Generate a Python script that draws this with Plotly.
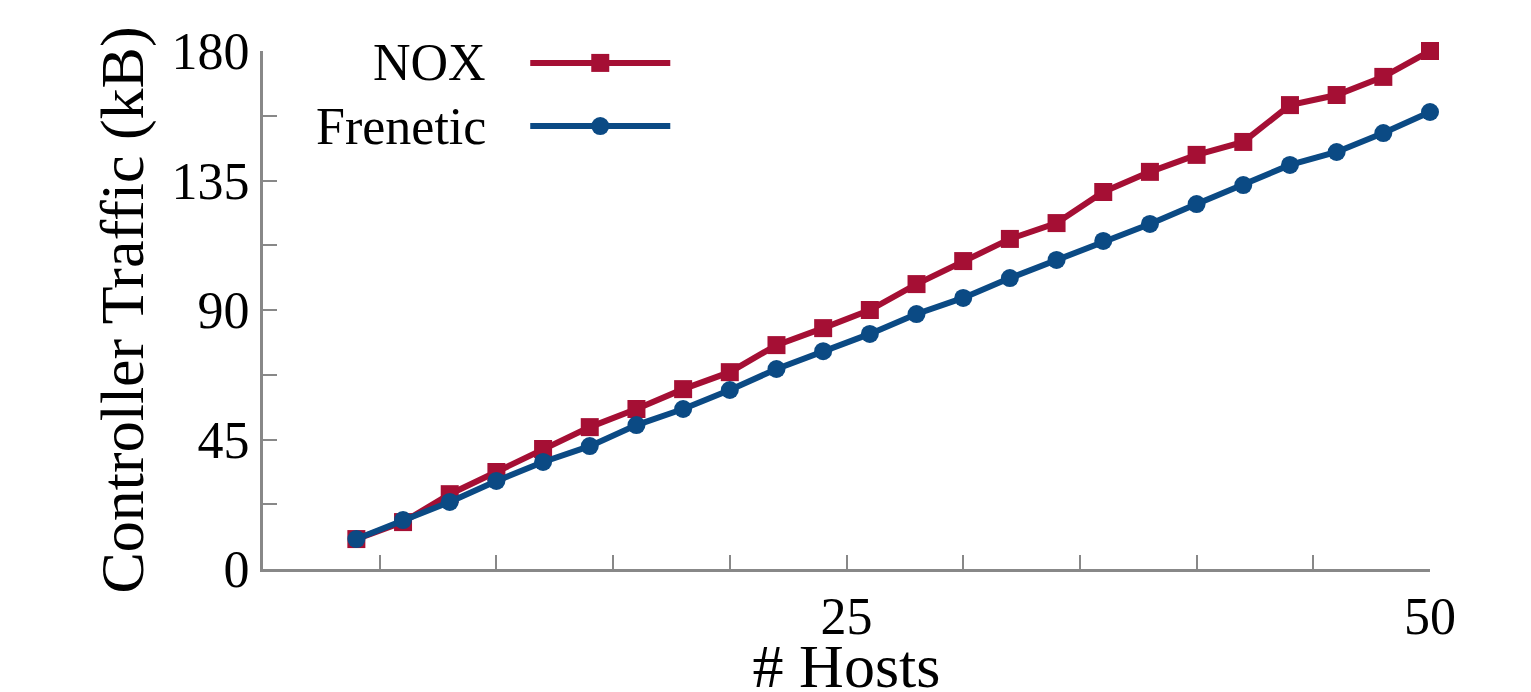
import plotly.graph_objects as go

hosts = [4,6,8,10,12,14,16,18,20,22,24,26,28,30,32,34,36,38,40,42,44,46,48,50]
nox = [10.4,16.3,26,33.7,41.7,49.3,55.6,62.5,68.4,77.8,83.7,90,99,107,114.7,120.2,131,138,143.9,148.4,161.2,164.7,171,180]
frenetic = [10.4,17,23.3,30.6,37.2,42.7,50,55.6,62.2,69.5,75.7,81.7,88.6,94.2,101.1,107.4,114,119.9,126.8,133.4,140.4,144.9,151.5,158.8]

RED = "#A50F34"
BLUE = "#0B4A84"
font = dict(family="Times New Roman, Liberation Serif, DejaVu Serif, serif", size=52, color="black")

fig = go.Figure()
fig.add_trace(go.Scatter(x=hosts, y=nox, mode="lines+markers", name="NOX",
    line=dict(color=RED, width=6), marker=dict(symbol="square", size=18, color=RED), cliponaxis=False))
fig.add_trace(go.Scatter(x=hosts, y=frenetic, mode="lines+markers", name="Frenetic",
    line=dict(color=BLUE, width=6), marker=dict(symbol="circle", size=18, color=BLUE), cliponaxis=False))

for yy, col, sym, name in [(0.977, RED, "square", "NOX"), (0.855, BLUE, "circle", "Frenetic")]:
    fig.add_shape(type="line", xref="paper", yref="paper", x0=0.229, x1=0.349, y0=yy, y1=yy,
                  line=dict(color=col, width=6))
    fig.add_trace(go.Scatter(x=[0.289], y=[yy], xaxis="x2", yaxis="y2", mode="markers",
                             marker=dict(symbol=sym, size=18, color=col), showlegend=False,
                             hoverinfo="skip", cliponaxis=False))
    fig.add_annotation(xref="paper", yref="paper", x=0.193, y=yy, text=name, showarrow=False,
                       xanchor="right", yanchor="middle", font=font)

axcol = "#888888"
common = dict(showgrid=False, zeroline=False, showline=True, linecolor=axcol, linewidth=3,
              ticks="inside", ticklen=14, tickwidth=2, tickcolor=axcol, tickfont=font, automargin=False)
fig.update_layout(
    width=1531, height=692, margin=dict(l=255, r=109, t=43, b=131),
    plot_bgcolor="white", paper_bgcolor="white", showlegend=False, font=font,
    xaxis=dict(range=[0, 50], tickvals=[25, 50],
               minor=dict(dtick=5, ticks="inside", ticklen=14, tickwidth=2, tickcolor=axcol),
               title=dict(text="# Hosts", standoff=0), **common),
    yaxis=dict(range=[0, 180], tickvals=[0, 45, 90, 135, 180],
               minor=dict(dtick=22.5, ticks="inside", ticklen=14, tickwidth=2, tickcolor=axcol),
               title=dict(text="Controller Traffic (kB)", standoff=8), **common),
    xaxis2=dict(range=[0, 1], overlaying="x", visible=False),
    yaxis2=dict(range=[0, 1], overlaying="y", visible=False),
)
fig.write_html("out.html")
